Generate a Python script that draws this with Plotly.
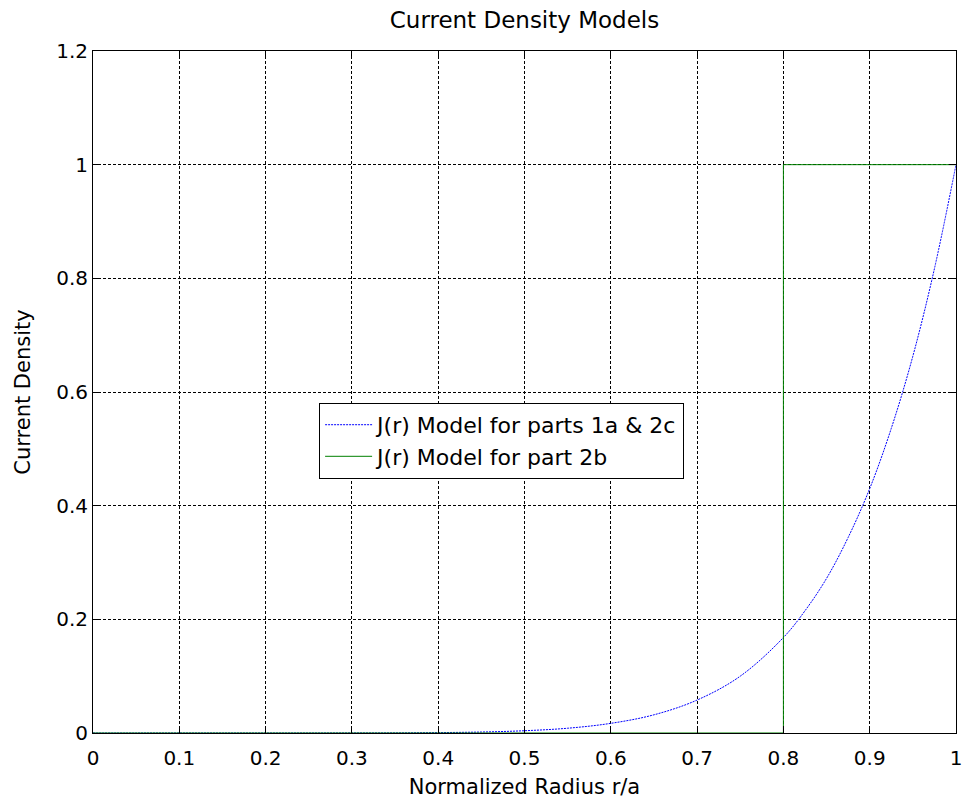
import plotly.graph_objects as go

# Blue model J(r)
r_blue = [0.0, 0.05, 0.1, 0.15, 0.2, 0.25, 0.3, 0.35, 0.4, 0.45, 0.5, 0.55, 0.6,
          0.65, 0.7, 0.75, 0.8, 0.825, 0.85, 0.875, 0.9, 0.925, 0.95, 0.975, 1.0]
j_blue = [0.0, 0.0, 0.0, 0.0, 0.0, 0.0, 0.0001, 0.0002, 0.0007, 0.0017, 0.004, 0.0084, 0.017,
          0.032, 0.058, 0.100, 0.168, 0.215, 0.272, 0.344, 0.430, 0.536, 0.663, 0.817, 1.0]

# Green step model
r_green = [0.0, 0.8, 0.8, 1.0]
j_green = [0.0, 0.0, 1.0, 1.0]

x_ticks = [0, 0.1, 0.2, 0.3, 0.4, 0.5, 0.6, 0.7, 0.8, 0.9, 1]
x_labels = ["0", "0.1", "0.2", "0.3", "0.4", "0.5", "0.6", "0.7", "0.8", "0.9", "1"]
y_ticks = [0, 0.2, 0.4, 0.6, 0.8, 1.0, 1.2]
y_labels = ["0", "0.2", "0.4", "0.6", "0.8", "1", "1.2"]

FONT = "DejaVu Sans, Liberation Sans, Arial, sans-serif"

fig = go.Figure()
fig.add_trace(go.Scatter(x=r_blue, y=j_blue, mode="lines",
                         line=dict(color="#0000ff", width=1, dash="2px,1px", shape="spline"),
                         name="J(r) Model for parts 1a & 2c"))
fig.add_trace(go.Scatter(x=r_green, y=j_green, mode="lines",
                         line=dict(color="#008000", width=1),
                         name="J(r) Model for part 2b"))

axis_common = dict(showline=True, linecolor="black", linewidth=1, mirror="ticks",
                   ticks="inside", ticklen=7, tickcolor="black",
                   showgrid=True, gridcolor="black", gridwidth=1, griddash="3px,2px",
                   zeroline=False, ticklabeloverflow="allow", automargin=False,
                   tickfont=dict(family=FONT, size=20, color="black"))

fig.update_layout(
    width=963, height=799,
    paper_bgcolor="white", plot_bgcolor="white",
    margin=dict(l=93, r=7, t=51, b=66),
    title=dict(text="Current Density Models", x=0.5, xref="paper", xanchor="center",
               y=1 - 20 / 799, yanchor="middle",
               font=dict(family=FONT, size=23, color="black")),
    xaxis=dict(range=[0, 1], tickvals=x_ticks, ticktext=x_labels,
               ticklabelstandoff=7,
               title=dict(text="Normalized Radius r/a", standoff=11,
                          font=dict(family=FONT, size=21, color="black")),
               **axis_common),
    yaxis=dict(range=[0, 1.2], tickvals=y_ticks, ticktext=y_labels,
               title=dict(text="Current Density", standoff=19,
                          font=dict(family=FONT, size=21, color="black")),
               **axis_common),
    legend=dict(x=0.262, y=0.484, xanchor="left", yanchor="top",
                bgcolor="white", bordercolor="black", borderwidth=1,
                font=dict(family=FONT, size=22, color="black"),
                itemwidth=47),
    showlegend=True,
)

fig.write_html("out.html", config={"displayModeBar": False},
               post_script="document.body.style.margin='0';document.body.style.overflow='hidden';")
